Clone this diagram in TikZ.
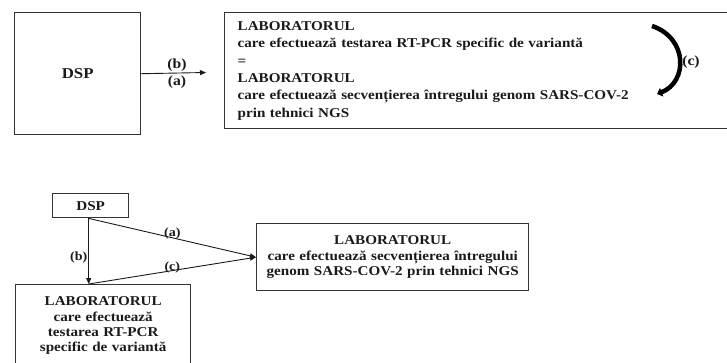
\documentclass[tikz,border=0pt]{standalone}
\usepackage{fontspec}
\setmainfont[FakeStretch=1.12]{Liberation Serif}
\usetikzlibrary{arrows.meta}
\definecolor{ink}{HTML}{1A1A1A}
\definecolor{frame}{HTML}{333333}
\tikzset{
  box/.style={draw=frame, line width=1.4pt, rectangle, inner sep=0pt},
  txt/.style={font=\bfseries\fontsize{13.5}{15.4}\selectfont, text=ink},
  dsptxt/.style={font=\bfseries\fontsize{15}{17}\selectfont, text=ink},
  lbl/.style={font=\bfseries\fontsize{14}{15}\selectfont, text=ink, inner sep=1pt},
  slbl/.style={font=\bfseries\fontsize{12.5}{14}\selectfont, text=ink, inner sep=0pt},
  conn/.style={draw=ink, line width=0.9pt, -{Triangle[length=6pt,width=5pt]}},
}
\begin{document}
\begin{tikzpicture}[x=1pt,y=-1pt]
\useasboundingbox (0,0) rectangle (727,362);
\clip (0,0) rectangle (727,362);
% ---------- top part ----------
\node[box, anchor=north west, minimum width=126pt, minimum height=122pt, dsptxt] (dspA) at (14,12) {DSP};
\node[box, anchor=north west, minimum width=503pt, minimum height=116pt,
      text width=477pt, align=left, inner xsep=13pt,
      font=\bfseries\fontsize{13.5}{17.4}\selectfont, text=ink] (labA) at (224,12)
  {LABORATORUL\\
   care efectuează testarea RT-PCR specific de variantă\\
   =\\
   LABORATORUL\\
   care efectuează secvențierea întregului genom SARS-COV-2\\
   prin tehnici NGS};
\coordinate (endA) at (206,72.5);
\draw[conn] (dspA.east) -- (endA)
  node[lbl, pos=0.55, above=0pt] (lbA1) {(b)}
  node[lbl, pos=0.55, below=1pt] (lbA2) {(a)};
\coordinate (cS) at (652,26);
\coordinate (cE) at (657,94);
\draw[draw=black, line width=4.5pt, -{Triangle[length=5pt,width=9pt]}] (cS) .. controls (688,38) and (688,82) .. (cE);
\node[lbl] (lbC) at (691,62) {(c)};
% ---------- bottom part ----------
\node[box, anchor=north west, minimum width=76pt, minimum height=24pt, txt] (dspB) at (52,193) {DSP};
\node[box, anchor=north west, minimum width=175pt, minimum height=82pt,
      text width=175pt, align=center, txt] (labB) at (15,284)
  {LABORATORUL\\
   care efectuează\\
   testarea RT-PCR\\
   specific de variantă};
\node[box, anchor=north west, minimum width=272pt, minimum height=67pt,
      text width=272pt, align=center, txt] (labC) at (256,223)
  {LABORATORUL\\
   care efectuează secvențierea întregului\\
   genom SARS-COV-2 prin tehnici NGS};
\coordinate (bTop) at ([xshift=-2pt]dspB.south);
\coordinate (bBot) at (bTop |- labB.north);
\draw[conn] (bTop) -- (labC.west)
  node[slbl, pos=0.5, anchor=south, yshift=-2pt] (lbB1) {(a)};
\draw[conn] (bTop) -- (bBot)
  node[slbl, pos=0.6, left=1pt] (lbB2) {(b)};
\draw[conn] (bBot) -- (labC.west)
  node[slbl, pos=0.5, anchor=south, yshift=-3pt] (lbB3) {(c)};
\end{tikzpicture}
\end{document}
